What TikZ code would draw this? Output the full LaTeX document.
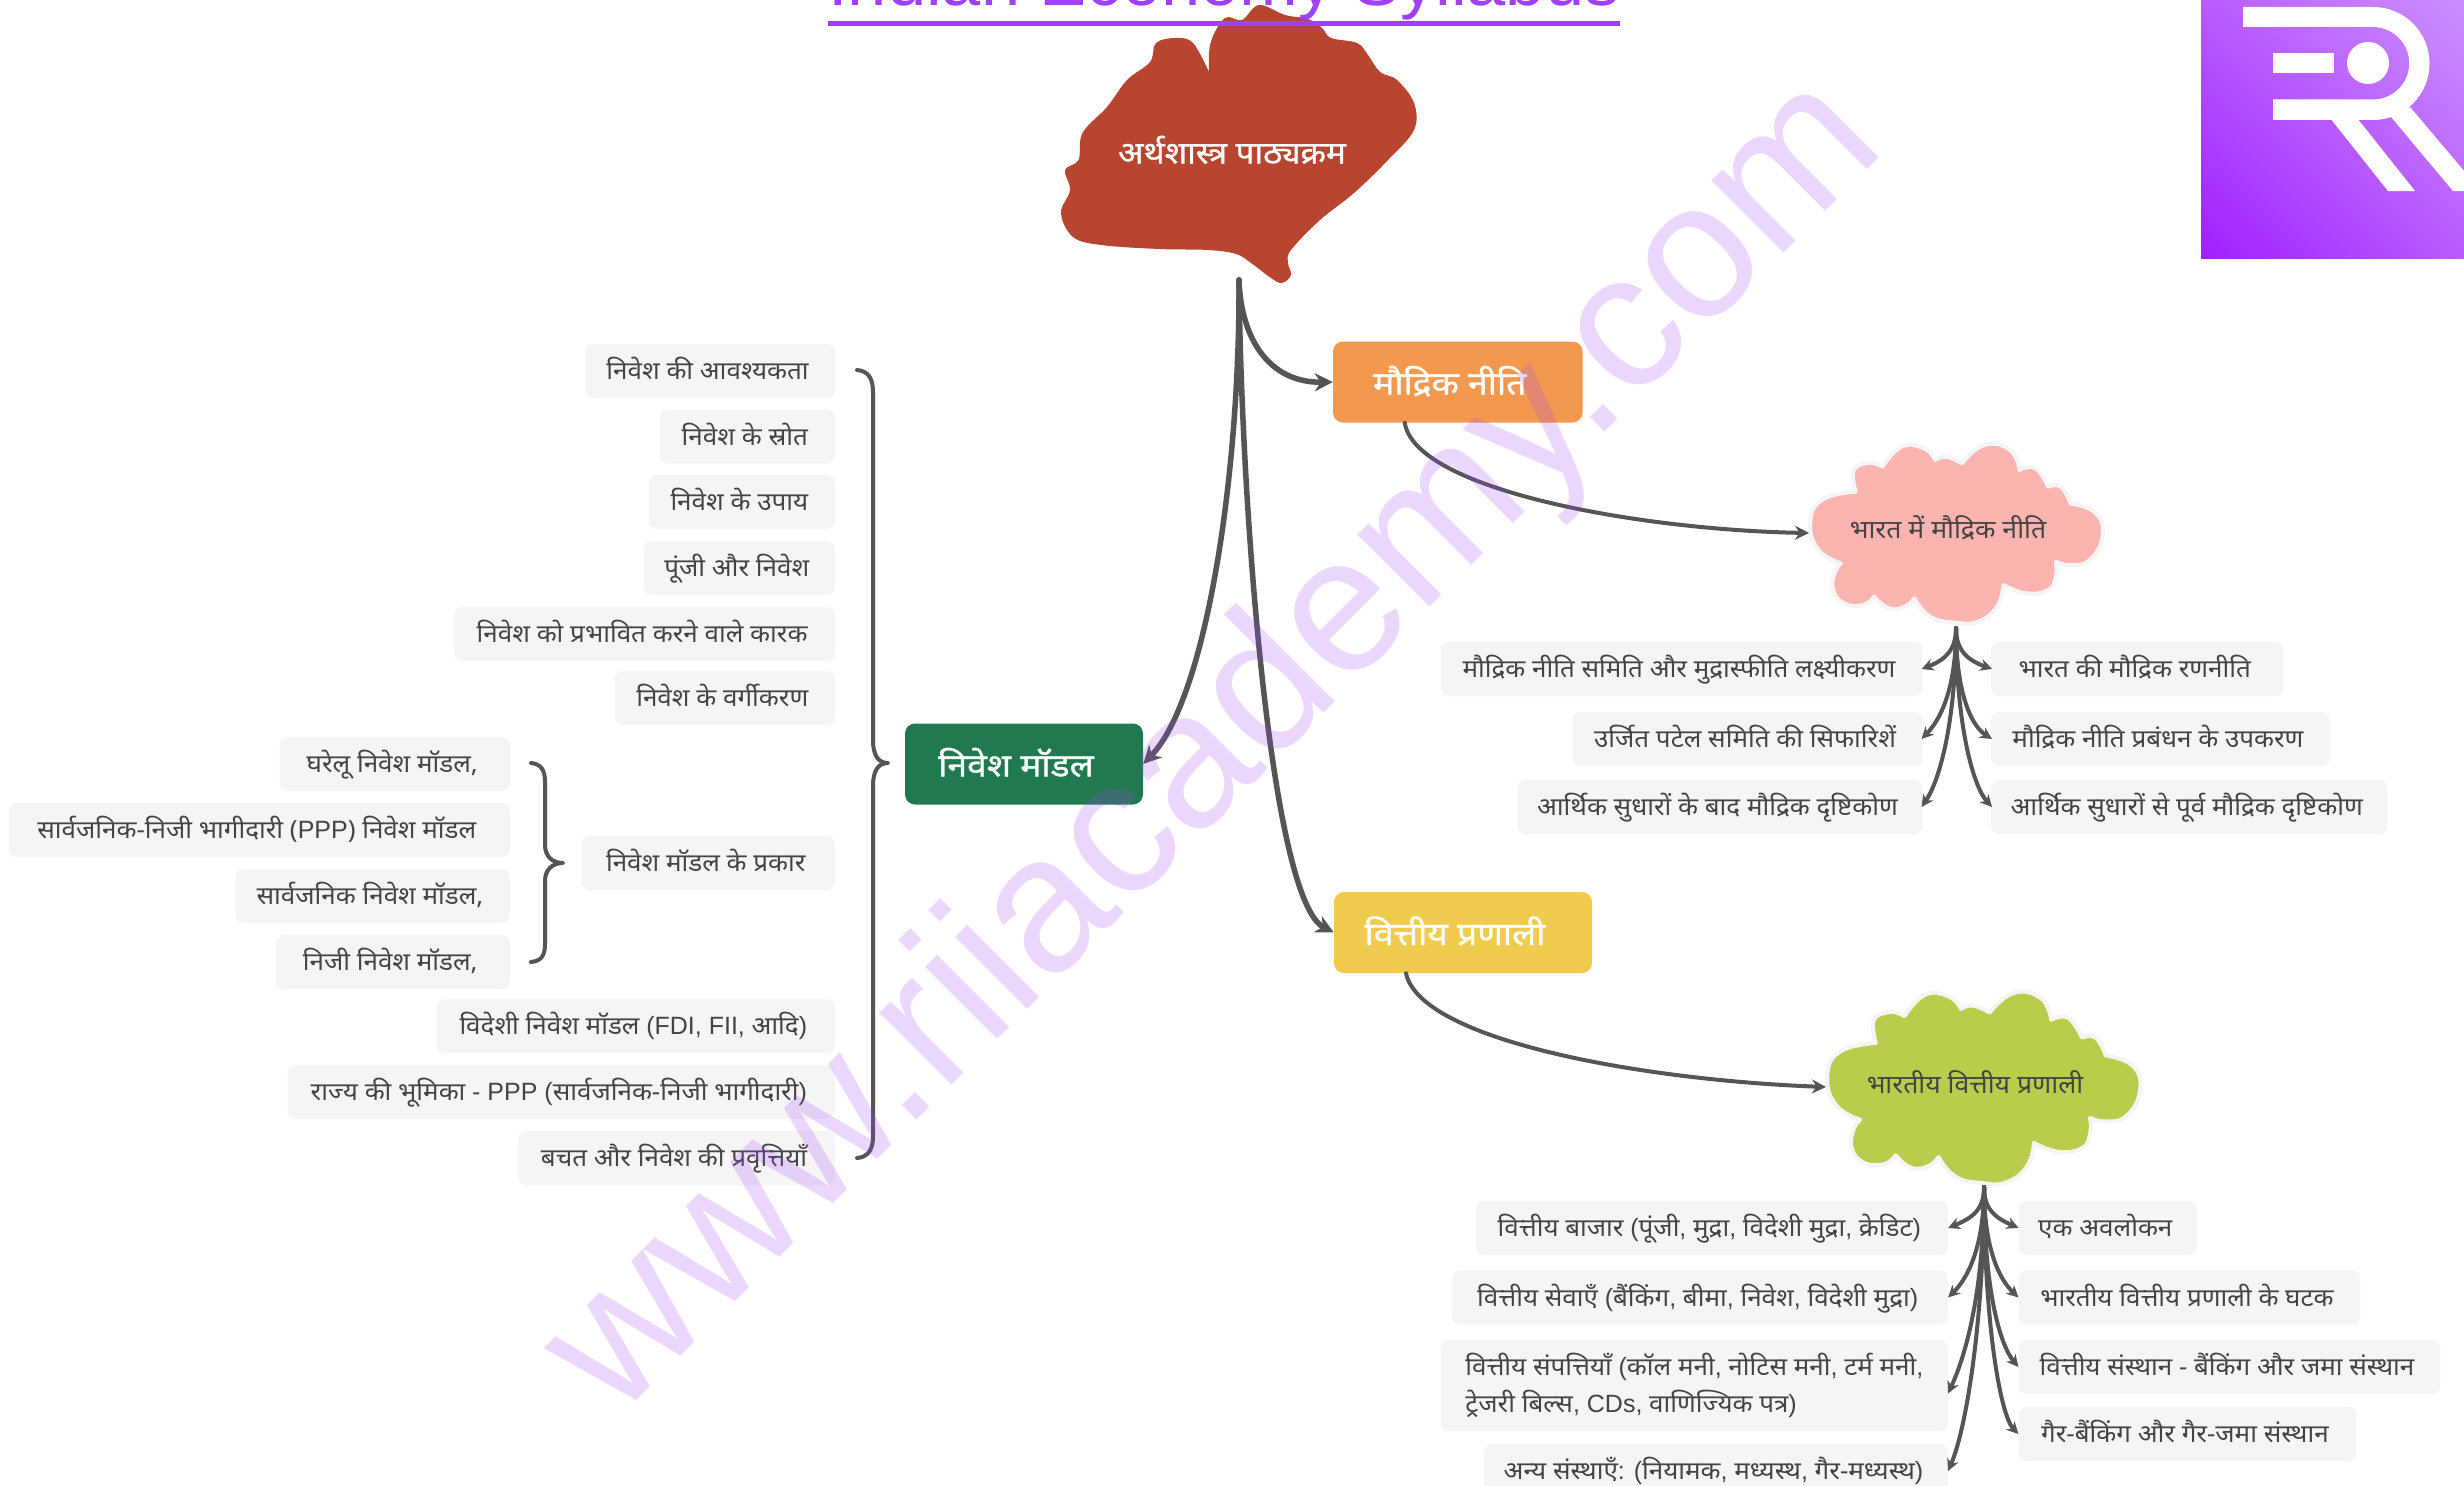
\documentclass[tikz,border=0pt]{standalone}
\usepackage{fontspec}
\setmainfont[Script=Devanagari,FakeStretch=1.04]{Noto Sans}
\newfontfamily\lat{Liberation Sans}
\newfontfamily\hbold[Script=Devanagari,FakeBold=1.0,FakeStretch=1.11]{Noto Sans}
\newfontfamily\hboldroot[Script=Devanagari,FakeBold=1.0,FakeStretch=1.07]{Noto Sans}
\usetikzlibrary{arrows.meta,shadings}
\definecolor{ink}{HTML}{555555}
\definecolor{txt}{HTML}{444444}
\definecolor{leaf}{HTML}{F5F5F5}
\definecolor{rust}{HTML}{B7452F}
\definecolor{vio}{HTML}{A040FF}
\definecolor{logoLL}{HTML}{A020FF}
\definecolor{logoUR}{HTML}{CC90FF}
\definecolor{logoMid}{HTML}{B85CFF}
\tikzset{
 leafbox/.style={fill=leaf,rounded corners=8pt,minimum height=54pt,inner xsep=19.5pt,inner ysep=0pt,text=txt,font=\fontsize{25}{37}\selectfont},
 leafone/.style={leafbox,text height=19pt,text depth=2pt,execute at end node={\kern5pt}},
 mainbox/.style={rounded corners=10pt,minimum height=81pt,inner xsep=0pt,inner ysep=0pt,text=white,text height=25pt,text depth=0pt,execute at end node={\kern16pt},font=\hbold\fontsize{32}{36}\selectfont},
 cloudtext/.style={text=txt,inner sep=0pt,text height=18pt,text depth=2pt,font=\fontsize{25.6}{30}\selectfont},
 mainlink/.style={draw=ink,line width=5.5pt,line cap=round,-{Stealth[length=18pt,width=18pt]}},
 sublink/.style={draw=ink,line width=4pt,line cap=round,-{Stealth[length=14pt,width=14pt]}},
 kidlink/.style={draw=ink,line width=4pt,line cap=round,-{Stealth[length=12pt,width=12pt]}},
 bracket/.style={draw=ink,line width=4pt,line cap=round,line join=round},
}
\newcommand{\cloudpic}[1]{\draw[#1] plot[smooth,tension=.7] coordinates {(1855.6,491.7)(1853.7,470)(1869.6,462.7)(1882.4,466.7)}
 -- plot[smooth,tension=.8] coordinates {(1882.4,466.7)(1901.5,446.7)(1923.8,448.3)(1935.3,460)}
 -- plot[smooth,tension=.8] coordinates {(1935.3,460)(1946,456.7)(1962,463.3)}
 -- plot[smooth,tension=.8] coordinates {(1962,463.3)(1984.4,445)(2010,450)(2019.5,470)}
 -- plot[smooth,tension=.8] coordinates {(2019.5,470)(2035.4,468.3)(2048.2,486.7)}
 -- plot[smooth,tension=.8] coordinates {(2048.2,486.7)(2061,486.7)(2070.5,503.3)}
 -- plot[smooth,tension=.8] coordinates {(2070.5,503.3)(2096,513.3)(2102.4,536.7)(2089.6,560)(2070.5,565)(2055.8,561.7)}
 -- plot[smooth,tension=.8] coordinates {(2055.8,561.7)(2055.8,576.7)(2048.2,590)(2025.8,593.3)(2003.5,585)}
 -- plot[smooth,tension=.8] coordinates {(2003.5,585)(1997,606.7)(1978,621.7)(1955.7,622.7)(1930.2,616.7)(1914.3,598.3)}
 -- plot[smooth,tension=.8] coordinates {(1914.3,598.3)(1904.7,606.7)(1888.8,608.3)(1874,596.7)}
 -- plot[smooth,tension=.8] coordinates {(1874,596.7)(1863.2,605)(1844,603.3)(1833.3,590)(1834.5,573.3)(1841,563.3)}
 -- plot[smooth,tension=.8] coordinates {(1841,563.3)(1818.6,550)(1810.3,523.3)(1821.8,500)(1855.6,491.7)} -- cycle;}
\begin{document}
\begin{tikzpicture}[x=1pt,y=-1pt]
\useasboundingbox (0,0) rectangle (2464,1485);
\clip (0,0) rectangle (2464,1485);
\fill[white] (0,0) rectangle (2464,1485);
% logo
\shade[shading=bilinear interpolation,lower left=logoLL,upper right=logoUR,lower right=logoMid,upper left=logoMid] (2201,-1) rectangle (2465,258);
\fill[white] (2243,7) -- (2373,7) arc[start angle=-90,end angle=90,radius=56.5] -- (2273,120) -- (2273,99.5) -- (2373,99.5) arc[start angle=90,end angle=-90,radius=36.25] -- (2243,27) -- cycle;
\fill[white] (2273,53) rectangle (2334,73);
\fill[white] (2368,63) circle[radius=21];
\fill[white] (2330,118) -- (2357,118) -- (2415,191) -- (2388,191) -- cycle;
\fill[white] (2410,107) -- (2391,117) -- (2453,191) -- (2470,191) -- (2470,178) -- cycle;
% root
\fill[rust] plot[smooth,tension=.6] coordinates {(1209,72)(1210.5,43)(1225,18)(1242,20)(1259,5)(1285,15)(1308,19)(1322,28)(1331,38)(1357,43)(1368,55)(1380,72)(1397,80)(1414,103)(1414,130)(1388,160)(1354,193)(1320,220)(1291,250)(1288,263)(1291,275)(1282,283)(1271,278)(1251,263)(1236,254)(1208,250)(1159,249)(1101,245)(1073,237)(1061,213)(1070,190)(1065,170)(1078.5,160)(1082.5,133)(1107,107)(1127,80)(1150,62)(1156,43)(1176,38)(1193,43)(1209,72)} -- cycle;
\node[inner sep=0pt,text=white,text height=22pt,text depth=3pt,font=\hboldroot\fontsize{31}{36}\selectfont] (root) at (1232,154) {अर्थशास्त्र पाठ्यक्रम};
\coordinate (rootout) at (1239,280);
% title
\node[anchor=base,inner sep=0pt,text=vio,font=\lat\fontsize{70.5}{80}\selectfont] (title) at (1224,6) {Indian Economy Syllabus};
\fill[vio] (828,21) rectangle (1620,26);
% main boxes
\node[mainbox,fill={rgb,255:red,242;green,153;blue,79},minimum width=249.5pt] (mon) at (1457.75,382) {मौद्रिक नीति};
\node[mainbox,fill={rgb,255:red,240;green,203;blue,78},minimum width=258pt] (fin) at (1463,932.5) {वित्तीय प्रणाली};
\node[mainbox,fill={rgb,255:red,33;green,122;blue,79},minimum width=238pt] (inv) at (1024,764) {निवेश मॉडल};
% clouds
\cloudpic{fill={rgb,255:red,251;green,180;blue,175},draw=leaf,line width=4pt,line join=round}
\node[cloudtext] (cpink) at (1948,530) {भारत में मौद्रिक नीति};
\coordinate (pinkin) at (1809,533);
\coordinate (pinkout) at (1956,628);
\begin{scope}[shift={(-109.7,516.85)},scale=1.07]
\cloudpic{fill={rgb,255:red,186;green,204;blue,75},draw=leaf,line width=4pt,line join=round}
\end{scope}
\node[cloudtext] (cgreen) at (1975,1085) {भारतीय वित्तीय प्रणाली};
\coordinate (greenin) at (1826,1087);
\coordinate (greenout) at (1984,1187);
% left list
\node[leafone,anchor=east,minimum width=249.5pt] (l1) at (835,371) {निवेश की आवश्यकता};
\node[leafone,anchor=east,minimum width=175pt] (l2) at (835,436.5) {निवेश के स्रोत};
\node[leafone,anchor=east,minimum width=186pt] (l3) at (835,502) {निवेश के उपाय};
\node[leafone,anchor=east,minimum width=191pt] (l4) at (835,568) {पूंजी और निवेश};
\node[leafone,anchor=east,minimum width=380.4pt] (l5) at (835,634) {निवेश को प्रभावित करने वाले कारक};
\node[leafone,anchor=east,minimum width=220pt] (l6) at (835,698) {निवेश के वर्गीकरण};
\node[leafone,anchor=east,minimum width=253pt] (t0) at (835,863) {निवेश मॉडल के प्रकार};
\node[leafone,anchor=east,minimum width=230pt] (t1) at (510,764) {घरेलू निवेश मॉडल,};
\node[leafone,anchor=east,minimum width=501pt] (t2) at (510,830) {सार्वजनिक-निजी भागीदारी ({\lat PPP}) निवेश मॉडल};
\node[leafone,anchor=east,minimum width=274.5pt] (t3) at (510,896) {सार्वजनिक निवेश मॉडल,};
\node[leafone,anchor=east,minimum width=234pt] (t4) at (510,962) {निजी निवेश मॉडल,};
\node[leafone,anchor=east,minimum width=398pt] (l7) at (835,1026) {विदेशी निवेश मॉडल {\lat (FDI, FII,} आदि{\lat )}};
\node[leafone,anchor=east,minimum width=547pt] (l8) at (835,1092) {राज्य की भूमिका {\lat - PPP (}सार्वजनिक-निजी भागीदारी{\lat )}};
\node[leafone,anchor=east,minimum width=316.5pt] (l9) at (835,1158) {बचत और निवेश की प्रवृत्तियाँ};
% pink children
\node[leafone,anchor=east,minimum width=481.5pt] (p1) at (1922.5,669) {मौद्रिक नीति समिति और मुद्रास्फीति लक्ष्यीकरण};
\node[leafone,anchor=east,minimum width=349.5pt] (p2) at (1922.5,739) {उर्जित पटेल समिति की सिफारिशें};
\node[leafone,anchor=east,minimum width=400.5pt] (p3) at (1922.5,807) {आर्थिक सुधारों के बाद मौद्रिक दृष्टिकोण};
\node[leafone,anchor=west,minimum width=292pt] (p4) at (1991,669) {भारत की मौद्रिक रणनीति};
\node[leafone,anchor=west,minimum width=338.5pt] (p5) at (1991,739) {मौद्रिक नीति प्रबंधन के उपकरण};
\node[leafone,anchor=west,minimum width=391pt] (p6) at (1991,807) {आर्थिक सुधारों से पूर्व मौद्रिक दृष्टिकोण};
% green children
\node[leafone,anchor=east,minimum width=472pt] (g1) at (1948,1228) {वित्तीय बाजार {\lat (}पूंजी{\lat ,} मुद्रा{\lat ,} विदेशी मुद्रा{\lat ,} क्रेडिट{\lat )}};
\node[leafone,anchor=east,minimum width=495.4pt] (g2) at (1948,1297.5) {वित्तीय सेवाएँ {\lat (}बैंकिंग{\lat ,} बीमा{\lat ,} निवेश{\lat ,} विदेशी मुद्रा{\lat )}};
\node[leafbox,anchor=east,align=left,minimum height=91pt,minimum width=507pt] (g3) at (1948,1385.5) {वित्तीय संपत्तियाँ {\lat (}कॉल मनी{\lat ,} नोटिस मनी{\lat ,} टर्म मनी{\lat ,}\\ट्रेजरी बिल्स{\lat , CDs,} वाणिज्यिक पत्र{\lat )}};
\node[leafone,anchor=east,minimum width=459pt] (g4) at (1948,1471) {अन्य संस्थाएँ{\lat :} {\lat (}नियामक{\lat ,} मध्यस्थ{\lat ,} गैर-मध्यस्थ{\lat )}};
\node[leafone,anchor=west,minimum width=177pt] (g5) at (2018.5,1228) {एक अवलोकन};
\node[leafone,anchor=west,minimum width=341.5pt] (g6) at (2018.5,1297.5) {भारतीय वित्तीय प्रणाली के घटक};
\node[leafone,anchor=west,minimum width=421.5pt] (g7) at (2018.5,1367) {वित्तीय संस्थान {\lat -} बैंकिंग और जमा संस्थान};
\node[leafone,anchor=west,minimum width=337.5pt] (g8) at (2018.5,1434) {गैर-बैंकिंग और गैर-जमा संस्थान};
% main links
\draw[mainlink] (rootout) .. controls (1241,340) and (1270,383) .. (mon.west);
\draw[mainlink] (rootout) .. controls (1240,480) and (1205,700) .. (inv.east);
\draw[mainlink] (rootout) .. controls (1241,500) and (1270,900) .. (fin.west);
\draw[sublink] ([xshift=-53pt]mon.south) .. controls (1415,490) and (1640,530) .. (pinkin);
\draw[sublink] ([xshift=-57pt]fin.south) .. controls (1420,1040) and (1640,1080) .. (greenin);
% kid links
\draw[kidlink] (pinkout) .. controls (1956,650) and (1945,660) .. ([xshift=-1pt]p1.east);
\draw[kidlink] (pinkout) .. controls (1956,690) and (1940,720) .. ([xshift=-1pt]p2.east);
\draw[kidlink] (pinkout) .. controls (1956,720) and (1940,780) .. ([xshift=-1pt]p3.east);
\draw[kidlink] (pinkout) .. controls (1956,650) and (1967,660) .. ([xshift=1pt]p4.west);
\draw[kidlink] (pinkout) .. controls (1956,690) and (1970,725) .. ([xshift=1pt]p5.west);
\draw[kidlink] (pinkout) .. controls (1956,720) and (1972,785) .. ([xshift=1pt]p6.west);
\draw[kidlink] (greenout) .. controls (1984,1210) and (1972,1218) .. (g1.east);
\draw[kidlink] (greenout) .. controls (1984,1250) and (1966,1280) .. (g2.east);
\draw[kidlink] (greenout) .. controls (1984,1290) and (1966,1355) .. ([yshift=-8pt]g3.east);
\draw[kidlink] (greenout) .. controls (1984,1320) and (1966,1430) .. (g4.east);
\draw[kidlink] (greenout) .. controls (1984,1210) and (1996,1218) .. (g5.west);
\draw[kidlink] (greenout) .. controls (1984,1250) and (2000,1280) .. (g6.west);
\draw[kidlink] (greenout) .. controls (1984,1290) and (2000,1345) .. (g7.west);
\draw[kidlink] (greenout) .. controls (1984,1320) and (2000,1415) .. (g8.west);
% braces
\coordinate (bigTop) at (857,370);
\coordinate (bigTip) at (888,763);
\coordinate (bigBot) at (857,1158);
\coordinate (smTop) at (531,763);
\coordinate (smTip) at (563,863);
\coordinate (smBot) at (531,962);
\draw[bracket] (bigTop) .. controls (868,371) and (873,378) .. (873,392) -- (873,740) .. controls (873,755) and (878,763) .. (bigTip) .. controls (878,763) and (873,771) .. (873,786) -- (873,1136) .. controls (873,1150) and (868,1157) .. (bigBot);
\draw[bracket] (smTop) .. controls (541,764) and (545,770) .. (545,782) -- (545,845) .. controls (545,856) and (552,863) .. (smTip) .. controls (552,863) and (545,870) .. (545,881) -- (545,944) .. controls (545,956) and (541,961) .. (smBot);
% watermark
\node[rotate=45,anchor=base west,inner sep=0pt,text=vio,text opacity=.2,font=\lat\fontsize{193}{193}\selectfont] (wm) at (616.5,1420.5) {www.riiacademy.com};
\end{tikzpicture}
\end{document}
